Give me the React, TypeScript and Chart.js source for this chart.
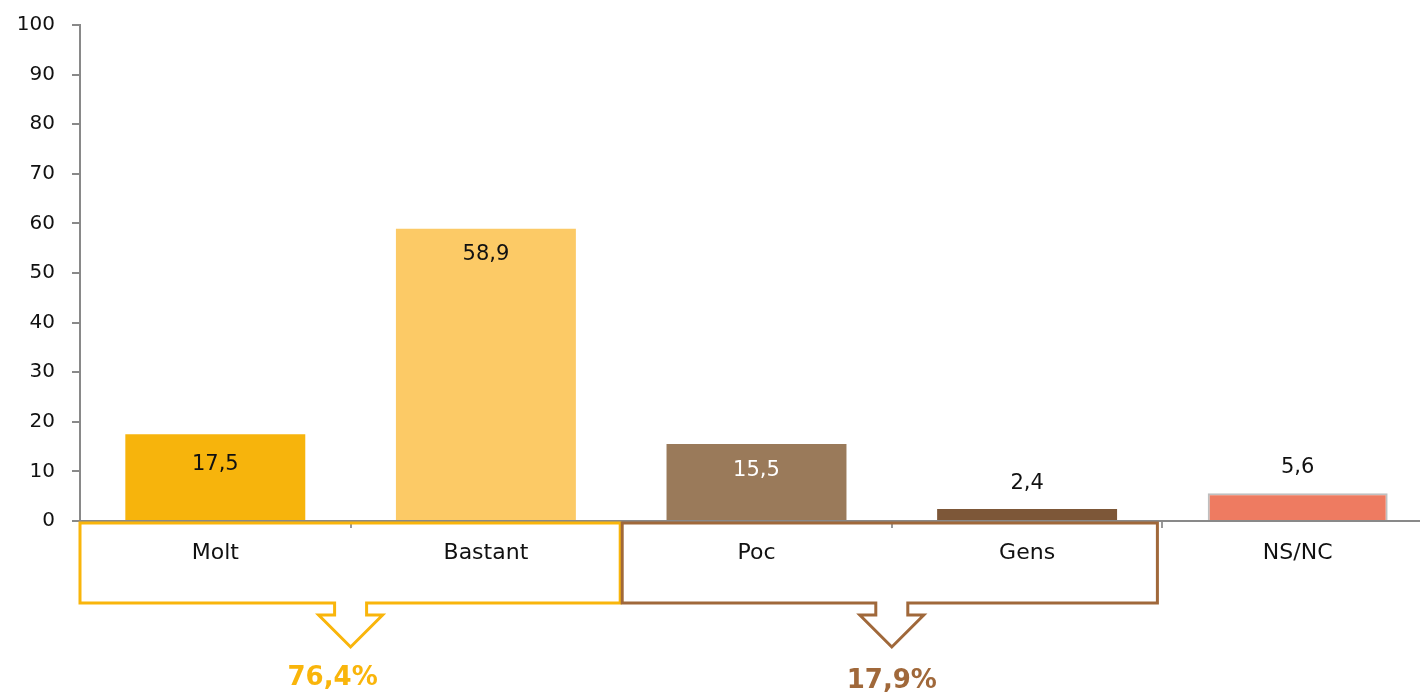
import React, { useEffect, useRef } from "react";
import { Chart, registerables } from "chart.js";
Chart.register(...registerables);

const categories = ["Molt", "Bastant", "Poc", "Gens", "NS/NC"];
const values = [17.5, 58.9, 15.5, 2.4, 5.6];
const valueLabels = ["17,5", "58,9", "15,5", "2,4", "5,6"];
const yTicks = [0, 10, 20, 30, 40, 50, 60, 70, 80, 90, 100];
const groupLabels = ["76,4%", "17,9%"];
const groupRanges = [[0, 1], [2, 3]];

const barColors = ["#F7B40C", "#FCCA66", "#9A7A5A", "#7D5738", "#EE7B61"];
const groupColors = ["#F9B50B", "#A0683A"];
const FONT = "'DejaVu Sans', sans-serif";

const overlayPlugin = {
  id: "overlay",
  afterDraw(chart: any) {
    const ctx = chart.ctx;
    const area = chart.chartArea;
    const meta = chart.getDatasetMeta(0);
    const offs = [30, 26, 26, -26, -26];
    const txtColors = ["#111", "#111", "#fff", "#111", "#111"];
    ctx.save();
    ctx.font = `21px ${FONT}`;
    ctx.textAlign = "center";
    ctx.textBaseline = "middle";
    meta.data.forEach((bar: any, i: number) => {
      ctx.fillStyle = txtColors[i];
      ctx.fillText(valueLabels[i], bar.x, bar.y + offs[i]);
    });
    ctx.restore();

    const w = (area.right - area.left) / categories.length;
    const b = (i: number) => area.left + i * w;
    const top = area.bottom + 2;
    const bot = area.bottom + 82;
    const stemBot = area.bottom + 94;
    const tip = area.bottom + 126;
    const stemHalf = 16;
    const headHalf = 32;
    const textY = [area.bottom + 157, area.bottom + 160];
    const textDx = [-18, 0];
    const insetL = [0, 1];
    const insetR = [-1, -5];
    groupRanges.forEach((r, g) => {
      const x0 = b(r[0]) + insetL[g];
      const x1 = b(r[1] + 1) + insetR[g];
      const cx = b(r[0] + 1);
      ctx.save();
      ctx.strokeStyle = groupColors[g];
      ctx.lineWidth = 3;
      ctx.lineJoin = "miter";
      ctx.beginPath();
      ctx.moveTo(cx - stemHalf, bot);
      ctx.lineTo(x0, bot);
      ctx.lineTo(x0, top);
      ctx.lineTo(x1, top);
      ctx.lineTo(x1, bot);
      ctx.lineTo(cx + stemHalf, bot);
      ctx.lineTo(cx + stemHalf, stemBot);
      ctx.lineTo(cx + headHalf, stemBot);
      ctx.lineTo(cx, tip);
      ctx.lineTo(cx - headHalf, stemBot);
      ctx.lineTo(cx - stemHalf, stemBot);
      ctx.closePath();
      ctx.stroke();
      ctx.fillStyle = groupColors[g];
      ctx.font = `bold 26px ${FONT}`;
      ctx.textAlign = "center";
      ctx.textBaseline = "middle";
      ctx.fillText(groupLabels[g], cx + textDx[g], textY[g]);
      ctx.restore();
    });
  },
};

export default function App() {
  const ref = useRef<HTMLCanvasElement>(null);
  useEffect(() => {
    if (!ref.current) return;
    const chart = new Chart(ref.current, {
      type: "bar",
      data: {
        labels: categories,
        datasets: [
          {
            data: values,
            backgroundColor: barColors,
            borderColor: ["transparent", "transparent", "transparent", "transparent", "#BFBFBF"],
            borderWidth: [0, 0, 0, 0, 2],
            borderSkipped: "bottom",
            barPercentage: 0.665,
            categoryPercentage: 1,
          },
        ],
      },
      options: {
        responsive: false,
        animation: false,
        layout: { padding: { top: 25, right: 0, left: 0, bottom: 0 } },
        plugins: { legend: { display: false }, tooltip: { enabled: false } },
        scales: {
          x: {
            grid: {
              offset: true,
              drawOnChartArea: false,
              drawTicks: true,
              tickLength: 7,
              color: "#999999",
              lineWidth: 2,
            },
            border: { color: "#898989", width: 2 },
            ticks: {
              color: "#111",
              font: { family: FONT, size: 22 },
              padding: 12,
            },
            afterFit: (s: any) => {
              s.height = 175;
            },
          },
          y: {
            min: 0,
            max: 100,
            afterBuildTicks: (s: any) => {
              s.ticks = yTicks.map((v) => ({ value: v }));
            },
            grid: {
              drawOnChartArea: false,
              drawTicks: true,
              tickLength: 8,
              color: "#898989",
              lineWidth: 2,
            },
            border: { color: "#898989", width: 2 },
            ticks: {
              color: "#111",
              font: { family: FONT, size: 20 },
              padding: 17,
            },
            afterFit: (s: any) => {
              s.width = 80;
              s.paddingTop = 0;
              s.paddingBottom = 0;
            },
          },
        },
      },
      plugins: [overlayPlugin],
    });
    return () => chart.destroy();
  }, []);
  return (
    <div style={{ position: "absolute", left: 0, top: 0, width: 1420, height: 696, overflow: "hidden", background: "#fff" }}>
      <canvas ref={ref} width={1433} height={696} style={{ display: "block" }} />
    </div>
  );
}
